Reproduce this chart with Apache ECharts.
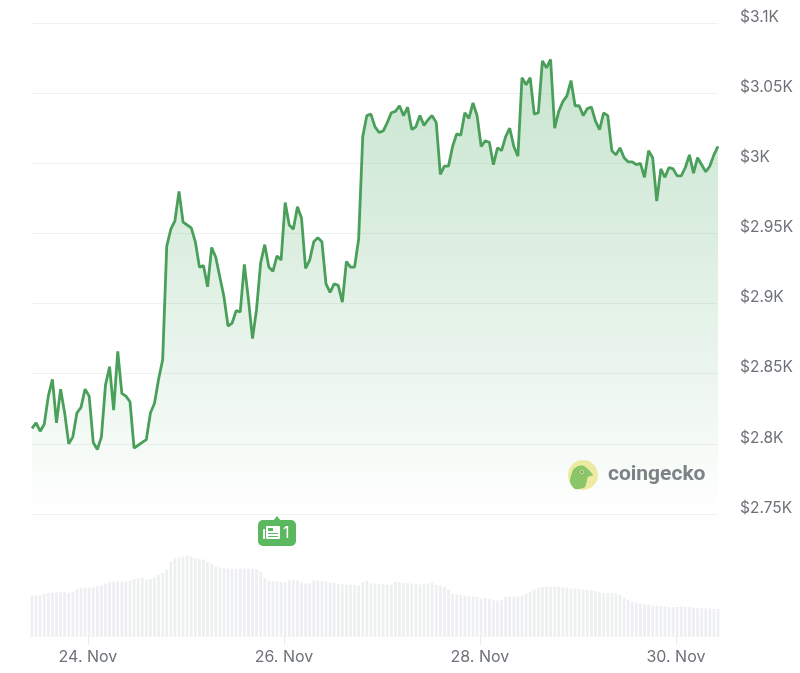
<!DOCTYPE html>
<html>
    <head>
        <meta charset="utf-8">
        <style>
            html, body { margin: 0; padding: 0; background: #fff; }
        </style>
    </head>
    <body>
        <div id="main" style="width:800px;height:673px"></div>
        <script src="https://cdn.jsdelivr.net/npm/echarts@6/dist/echarts.min.js"></script>
        <script type="text/javascript">
            // hourly readings, first one is 23 Nov 10:18
            var prices = [
                2811, 2815, 2809, 2814, 2834, 2846, 2815, 2839, 2822, 2800, 2805, 2822, 2826, 2839, 2834, 2801,
                2796, 2805, 2842, 2855, 2824, 2866, 2836, 2834, 2830, 2797, 2799, 2801, 2803, 2822, 2829, 2846,
                2860, 2941, 2953, 2959, 2980, 2958, 2956, 2954, 2944, 2926, 2927, 2912, 2940, 2933, 2919, 2905,
                2884, 2886, 2895, 2894, 2928, 2903, 2875, 2896, 2929, 2942, 2926, 2923, 2934, 2931, 2972, 2956,
                2953, 2969, 2961, 2925, 2931, 2944, 2947, 2944, 2914, 2908, 2914, 2913, 2901, 2930, 2926, 2926,
                2946, 3019, 3034, 3035, 3026, 3022, 3023, 3029, 3036, 3037, 3041, 3034, 3040, 3024, 3026, 3034,
                3027, 3031, 3034, 3029, 2992, 2998, 2998, 3012, 3021, 3020, 3036, 3032, 3043, 3034, 3012, 3016,
                3015, 2999, 3011, 3009, 3019, 3025, 3012, 3005, 3061, 3056, 3061, 3035, 3036, 3073, 3068, 3074,
                3025, 3037, 3044, 3048, 3059, 3041, 3041, 3034, 3039, 3040, 3030, 3024, 3036, 3034, 3009, 3006,
                3011, 3004, 3001, 3001, 2999, 3000, 2990, 3009, 3004, 2973, 2996, 2990, 2997, 2996, 2991, 2991,
                2997, 3006, 2993, 3004, 2999, 2994, 2998, 3006, 3012
            ]
            // volume in $B, same hours
            var volumes = [
                20.7, 20.7, 21, 21.7, 22, 22.3, 22.3, 22.3, 22.7, 22, 22.5, 24, 24.7, 24.7, 24.7, 24.7,
                25.3, 25.7, 26.7, 27.3, 27.7, 27.7, 27.8, 27.7, 28, 29, 29.2, 29.7, 28.7, 29, 29.8, 31,
                32, 33.7, 37.8, 39.3, 39.8, 40.2, 40.7, 40.2, 39.5, 39, 38.7, 37.3, 36.5, 35.3, 34.7, 34.5,
                34.3, 34, 34, 34.3, 34.2, 34.2, 34, 34, 32.7, 29.5, 28, 27.8, 27.8, 27.5, 27.3, 28.3,
                28.5, 28.2, 27.3, 26.7, 27, 28.3, 28.3, 28, 27.7, 27.3, 27, 26.5, 26.3, 26.2, 26.2, 26,
                25.7, 27.3, 28, 26.8, 26.8, 26.7, 26.3, 26.2, 26, 27.7, 27.5, 27, 27, 26.7, 26.5, 26.2,
                26.7, 26.7, 27.3, 26, 25.7, 25, 23.7, 21.7, 21.3, 21, 20.7, 20.3, 20.3, 20, 19, 19.7,
                19, 18.3, 18.2, 18.7, 20, 20.2, 20.2, 20.3, 20.7, 21.7, 22.7, 23.7, 24.7, 25, 25.2, 25,
                25.2, 25.2, 24.8, 24.7, 24.3, 24.2, 24, 23.7, 23.5, 23.3, 23, 22.3, 22, 22, 22, 21.7,
                21, 19.7, 18.7, 17.7, 17, 16.7, 16.3, 16.3, 15.7, 15.7, 15.3, 15.3, 15, 15, 15, 15.2,
                15, 15, 14.7, 14.5, 14.3, 14.3, 14.3, 14, 14
            ]
            var priceTicks = ['$2.75K', '$2.8K', '$2.85K', '$2.9K', '$2.95K', '$3K', '$3.05K', '$3.1K']
            // x axis counts hours from 23 Nov 00:00
            var dayTicks = [24, 72, 120, 168]
            var dayLabels = ['24. Nov', '26. Nov', '28. Nov', '30. Nov']

            var startHour = 10.3
            var hours = prices.map((p, i) => startHour + i)
            var labelColor = '#6d7178'
            var labelFont = 'Inter'

            var option = {
                animation: false,
                backgroundColor: '#fff',
                grid: [
                    { left: 32, right: 82, top: 23, height: 491 },
                    { left: 32, right: 82, top: 537, height: 100 }
                ],
                xAxis: [{
                    type: 'value',
                    gridIndex: 0,
                    min: hours[0],
                    max: hours[hours.length - 1],
                    show: false
                }, {
                    type: 'value',
                    gridIndex: 1,
                    min: hours[0],
                    max: hours[hours.length - 1],
                    axisLine: { show: false },
                    splitLine: { show: false },
                    axisTick: {
                        length: 8,
                        customValues: dayTicks,
                        lineStyle: { color: '#e8eaed' }
                    },
                    axisLabel: {
                        customValues: dayTicks,
                        margin: 12,
                        color: labelColor,
                        fontFamily: labelFont,
                        fontSize: 16,
                        formatter: v => dayLabels[dayTicks.indexOf(v)]
                    }
                }],
                yAxis: [{
                    type: 'value',
                    gridIndex: 0,
                    position: 'right',
                    min: 2750,
                    max: 3100,
                    interval: 50,
                    axisLine: { show: false },
                    axisTick: { show: false },
                    splitLine: { lineStyle: { color: '#f0f1f3', width: 1 } },
                    axisLabel: {
                        margin: 22,
                        color: labelColor,
                        fontFamily: labelFont,
                        fontSize: 15.5,
                        verticalAlign: 'bottom',
                        lineHeight: 12,
                        formatter: (v, i) => priceTicks[i]
                    }
                }, {
                    type: 'value',
                    gridIndex: 1,
                    min: 0,
                    max: 50,
                    show: false
                }],
                series: [{
                    type: 'line',
                    xAxisIndex: 0,
                    yAxisIndex: 0,
                    data: hours.map((t, i) => [t, prices[i]]),
                    showSymbol: false,
                    lineStyle: { color: '#4a9f5a', width: 2.8 },
                    itemStyle: { color: '#4a9f5a' },
                    areaStyle: {
                        color: {
                            type: 'linear', x: 0, y: 0, x2: 0, y2: 1,
                            colorStops: [
                                { offset: 0, color: 'rgba(90,176,112,0.47)' },
                                { offset: 0.4, color: 'rgba(90,176,112,0.3)' },
                                { offset: 0.75, color: 'rgba(90,176,112,0.14)' },
                                { offset: 0.97, color: 'rgba(90,176,112,0.02)' },
                                { offset: 1, color: 'rgba(90,176,112,0)' }
                            ]
                        }
                    }
                }, {
                    type: 'bar',
                    xAxisIndex: 1,
                    yAxisIndex: 1,
                    data: hours.map((t, i) => [t, volumes[i]]),
                    barWidth: 2.7,
                    itemStyle: { color: '#edeff1' }
                }],
                graphic: [
                    // news badge
                    { type: 'polygon', shape: { points: [[273, 521], [277, 516], [281, 521]] }, style: { fill: '#5cb85f' } },
                    { type: 'rect', shape: { x: 258, y: 520, width: 38, height: 26, r: 5 }, style: { fill: '#5cb85f' } },
                    { type: 'rect', shape: { x: 266, y: 526, width: 14, height: 13, r: 1 }, style: { fill: '#fff' } },
                    { type: 'rect', shape: { x: 263, y: 529, width: 2, height: 10, r: 1 }, style: { fill: '#fff' } },
                    { type: 'rect', shape: { x: 268, y: 528, width: 5, height: 3 }, style: { fill: '#5cb85f' } },
                    { type: 'rect', shape: { x: 268, y: 533, width: 10, height: 1 }, style: { fill: '#5cb85f' } },
                    { type: 'rect', shape: { x: 268, y: 536, width: 10, height: 1 }, style: { fill: '#5cb85f' } },
                    { type: 'text', x: 283, y: 533, style: { text: '1', fill: '#fff', font: '16px Inter', verticalAlign: 'middle' } },
                    // coingecko logo
                    { type: 'circle', shape: { cx: 583, cy: 475, r: 15 }, style: { fill: '#f3ecA4' } },
                    { type: 'polygon', shape: { smooth: 0.25, points: [[570, 482], [573, 470], [578, 466], [584, 466], [593, 475], [588, 477], [585, 487], [575, 489]] }, style: { fill: '#8cc768' } },
                    { type: 'circle', shape: { cx: 582, cy: 472, r: 1.8 }, style: { fill: '#e8f2d8' } },
                    { type: 'circle', shape: { cx: 582, cy: 472, r: 0.9 }, style: { fill: '#56604a' } },
                    { type: 'text', x: 608, y: 475, style: { text: 'coingecko', fill: '#7d8185', font: 'bold 21px Roboto', verticalAlign: 'middle' } }
                ]
            }

            var mycharts = echarts.init(document.getElementById('main'))
            mycharts.setOption(option)
        </script>
    </body>
</html>
